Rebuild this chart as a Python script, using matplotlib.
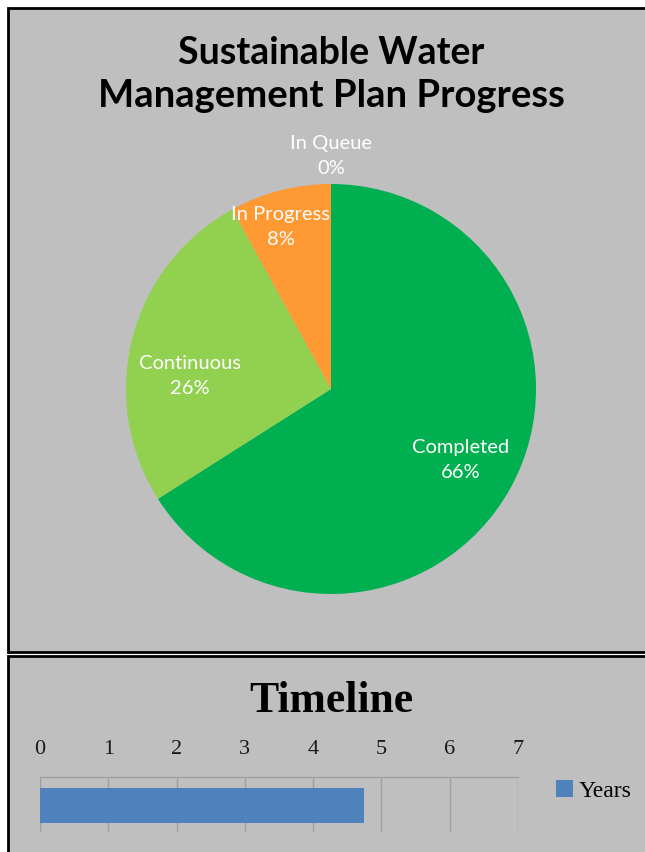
import matplotlib
matplotlib.use("Agg")
import matplotlib.pyplot as plt
from matplotlib.patches import Rectangle
import numpy as np

# ---- data ----
pie_labels = ["Completed", "Continuous", "In Progress", "In Queue"]
pie_values = [66, 26, 8, 0]
pie_colors = ["#00B050", "#92D050", "#FF9933", "#4F81BD"]

timeline_categories = ["Years"]
timeline_values = [4.75]
timeline_ticks = [0, 1, 2, 3, 4, 5, 6, 7]

# label positions (in pie radius units)
label_xy = [(0.634, -0.346), (-0.688, 0.063), (-0.244, 0.790), (0.0, 1.137)]

W, H = 645, 852
fig = plt.figure(figsize=(W / 100, H / 100), dpi=100)
fig.patch.set_facecolor("white")

def fx(px):
    return px / W

def fy(py):
    return 1 - py / H

gray = "#BFBFBF"
# panels
fig.patches.append(Rectangle((fx(8), fy(652)), fx(700 - 8), (652 - 8) / H,
                             transform=fig.transFigure, facecolor=gray,
                             edgecolor="black", linewidth=2, zorder=-5))
fig.patches.append(Rectangle((fx(8), fy(900)), fx(700 - 8), (900 - 656) / H,
                             transform=fig.transFigure, facecolor=gray,
                             edgecolor="black", linewidth=2, zorder=-5))

# titles
fig.text(fx(331), fy(64), "Sustainable Water", ha="center", va="baseline",
         fontsize=27, fontweight="bold", family="Lato", color="black")
fig.text(fx(331), fy(107), "Management Plan Progress", ha="center", va="baseline",
         fontsize=27.5, fontweight="bold", family="Lato", color="black")

# pie
cx, cy, R = 331, 389, 205
ax = fig.add_axes([fx(cx - R), fy(cy + R), 2 * R / W, 2 * R / H])
ax.pie(pie_values, colors=pie_colors, startangle=90, counterclock=False,
       radius=1, wedgeprops=dict(edgecolor="none", linewidth=0))
ax.set_xlim(-1, 1)
ax.set_ylim(-1, 1)
ax.set_aspect("equal")
ax.axis("off")
for (lx, ly), name, v in zip(label_xy, pie_labels, pie_values):
    pct = 100 * v / sum(pie_values)
    ax.text(lx, ly, f"{name}\n{pct:.0f}%", ha="center", va="center",
            color="white", fontsize=14.5, family="Lato", linespacing=1.55,
            clip_on=False)

# timeline bar
bx = fig.add_axes([fx(40), fy(832), (518 - 40) / W, (832 - 777) / H])
bx.set_facecolor("none")
bx.barh([0], timeline_values, height=0.636, color="#4F81BD", label=timeline_categories[0], zorder=2)
bx.set_xlim(timeline_ticks[0], timeline_ticks[-1])
bx.set_ylim(-0.482, 0.518)
bx.set_xticks(timeline_ticks)
bx.set_xticklabels([str(t) for t in timeline_ticks], family="Liberation Serif", fontsize=16)
bx.xaxis.tick_top()
bx.tick_params(axis="x", length=0, pad=13, colors="#1a1a1a")
bx.set_yticks([])
bx.grid(axis="x", color="#A0A0A0", linewidth=1, zorder=1)
for s in ["left", "right", "bottom"]:
    bx.spines[s].set_visible(False)
bx.spines["top"].set_color("#A0A0A0")
bx.spines["top"].set_linewidth(1)
bx.set_axisbelow(True)

fig.text(fx(331), fy(712), "Timeline", ha="center", va="baseline",
         fontsize=31.5, fontweight="bold", family="Liberation Serif", color="black")

leg = bx.legend(loc="center left", bbox_to_anchor=(fx(556), fy(791)),
                bbox_transform=fig.transFigure, frameon=False,
                borderpad=0, borderaxespad=0,
                handlelength=0.7, handleheight=0.7, handletextpad=0.25,
                prop=dict(family="Liberation Serif", size=17))

fig.savefig("out.png", dpi=100, facecolor=fig.get_facecolor())
